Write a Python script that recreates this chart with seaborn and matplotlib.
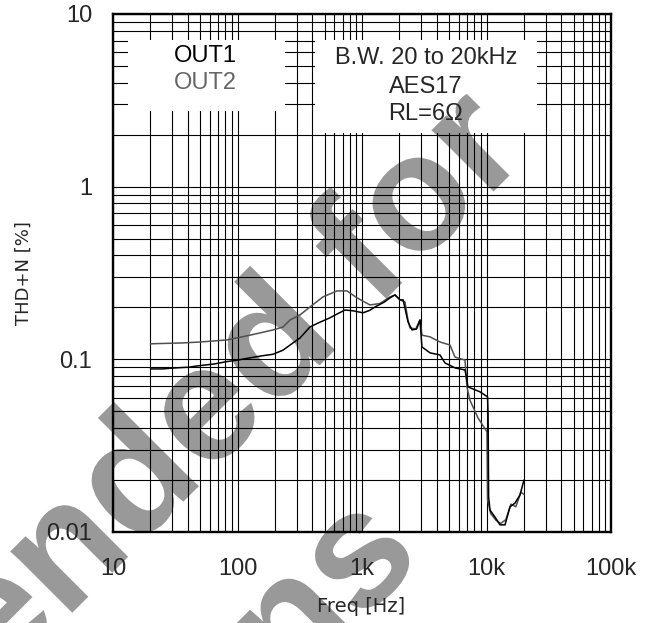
import matplotlib
matplotlib.use("Agg")
import numpy as np
import pandas as pd
import matplotlib.pyplot as plt
import seaborn as sns
from matplotlib.patches import Rectangle, PathPatch
from matplotlib.ticker import LogLocator, NullFormatter
from matplotlib.textpath import TextPath
from matplotlib.font_manager import FontProperties
from matplotlib.transforms import Affine2D, IdentityTransform

# OUT1 (black)
freq_out1 = [20, 25, 30, 40, 50, 65, 82, 100, 126, 160, 193, 232, 279, 318, 382, 450,
             553, 640, 730, 850, 912, 1020, 1150, 1270, 1500, 1680, 1840, 2020, 2140,
             2340, 2520, 2750, 2920, 3030, 3520, 4230, 4640, 5590, 6720, 7100, 8870,
             10200, 10300, 10400, 10670, 11700, 12830, 14080, 15450, 16940, 18580, 20000]
thd_out1 = [0.088, 0.088, 0.089, 0.090, 0.092, 0.094, 0.097, 0.099, 0.102, 0.105,
            0.107, 0.113, 0.1245, 0.133, 0.154, 0.163, 0.174, 0.184, 0.193, 0.191,
            0.189, 0.186, 0.192, 0.201, 0.214, 0.227, 0.236, 0.221, 0.221, 0.165,
            0.148, 0.150, 0.169, 0.118, 0.109, 0.106, 0.0953, 0.0892, 0.0868, 0.0692,
            0.0648, 0.0606, 0.0477, 0.016, 0.0134, 0.0122, 0.011, 0.011, 0.014,
            0.0147, 0.0164, 0.020]

# OUT2 (grey)
freq_out2 = [20, 30, 36.5, 50, 82, 126, 193, 232, 264, 318, 382, 486, 630, 758, 912,
             1159, 1395, 1679, 1841, 2019, 2214, 2340, 2429, 2700, 2924, 3034, 3516,
             4232, 5094, 5585, 6720, 6970, 7360, 8545, 10090, 10200, 10800, 11900,
             13000, 14300, 15700, 17200, 18900, 20000]
thd_out2 = [0.123, 0.124, 0.1245, 0.126, 0.1295, 0.138, 0.148, 0.154, 0.169, 0.181,
            0.201, 0.230, 0.249, 0.249, 0.227, 0.2065, 0.2106, 0.230, 0.236, 0.221,
            0.215, 0.169, 0.152, 0.150, 0.169, 0.138, 0.135, 0.126, 0.121, 0.103,
            0.099, 0.069, 0.058, 0.0458, 0.038, 0.0154, 0.0128, 0.0117, 0.0112,
            0.0118, 0.0145, 0.0140, 0.0170, 0.0165]

x_ticks = [10, 100, 1000, 10000, 100000]
x_labels = ["10", "100", "1k", "10k", "100k"]
y_ticks = [0.01, 0.1, 1, 10]
y_labels = ["0.01", "0.1", "1", "10"]

legend_labels = ["OUT1", "OUT2"]
notes = ["B.W. 20 to 20kHz", "AES17", "RL=6Ω"]
watermark = ["Not Recommended for", "New Designs"]

sns.set_style("white")
plt.rcParams["font.family"] = ["Liberation Sans", "DejaVu Sans"]

W, H = 659, 623
fig = plt.figure(figsize=(W / 100, H / 100), dpi=100)
ax = fig.add_axes([113 / W, 1 - 532 / H, 498 / W, 518 / H])
ax.patch.set_visible(False)

df1 = pd.DataFrame({"freq": freq_out1, "thd": thd_out1})
df2 = pd.DataFrame({"freq": freq_out2, "thd": thd_out2})
sns.lineplot(data=df2, x="freq", y="thd", color="#505050", lw=1.1, sort=False,
             estimator=None, ax=ax, zorder=3)
sns.lineplot(data=df1, x="freq", y="thd", color="black", lw=1.1, sort=False,
             estimator=None, ax=ax, zorder=3)

ax.set_xscale("log")
ax.set_yscale("log")
for axis in (ax.xaxis, ax.yaxis):
    axis.set_minor_locator(LogLocator(base=10, subs=np.arange(2, 10)))
    axis.set_minor_formatter(NullFormatter())
ax.set_xticks(x_ticks, x_labels)
ax.set_yticks(y_ticks, y_labels)
ax.grid(True, which="both", color="black", lw=0.8)
ax.tick_params(which="both", length=0, labelsize=17)
ax.tick_params(axis="x", pad=19)
ax.tick_params(axis="y", pad=15)
for s in ax.spines.values():
    s.set_linewidth(1.7)
    s.set_color("black")
    s.set_zorder(5)

# white boxes behind the annotations
box1 = Rectangle((0.030, 0.8127), 0.315, 0.1373, transform=ax.transAxes,
                 facecolor="white", edgecolor="none", zorder=2)
box2 = Rectangle((0.406, 0.770), 0.445, 0.180, transform=ax.transAxes,
                 facecolor="white", edgecolor="none", zorder=2)
ax.add_patch(box1)
ax.add_patch(box2)

ax.text(0.185, 0.919, legend_labels[0], transform=ax.transAxes, ha="center",
        va="center", fontsize=17, color="black", zorder=4)
ax.text(0.185, 0.866, legend_labels[1], transform=ax.transAxes, ha="center",
        va="center", fontsize=17, color="#666666", zorder=4)
for txt, yy in zip(notes, [0.915, 0.859, 0.806]):
    ax.text(0.6285, yy, txt, transform=ax.transAxes, ha="center", va="center",
            fontsize=17, zorder=4)

ax.set_xlabel("Freq [Hz]", fontsize=14, family="DejaVu Sans")
ax.set_ylabel("THD+N [%]", fontsize=13, family="DejaVu Sans")
ax.xaxis.set_label_coords(0.498, -0.125)
ax.yaxis.set_label_coords(-0.161, 0.5)

ax.set_xlim(10, 100000)
ax.set_ylim(0.01, 10)

# watermark: text outlines, so the copy on top of the box can be clipped
fp = FontProperties(family="Liberation Sans", weight="bold")
wm_ends = [(529, 156), (420, 563)]
for line, (px, py) in zip(watermark, wm_ends):
    tp = TextPath((0, 0), line, size=165, prop=fp)
    width = tp.get_extents().x1
    path = Affine2D().translate(-width, 0).rotate_deg(45).translate(px, H - py).transform_path(tp)
    fig.add_artist(PathPatch(path, facecolor="#999999", edgecolor="none",
                             transform=IdentityTransform(), zorder=-1))
    top = PathPatch(path, facecolor="#999999", edgecolor="none",
                    transform=IdentityTransform(), zorder=2.5)
    ax.add_artist(top)
    top.set_clip_path(box2)

fig.savefig("out.png", dpi=100, facecolor="white")
